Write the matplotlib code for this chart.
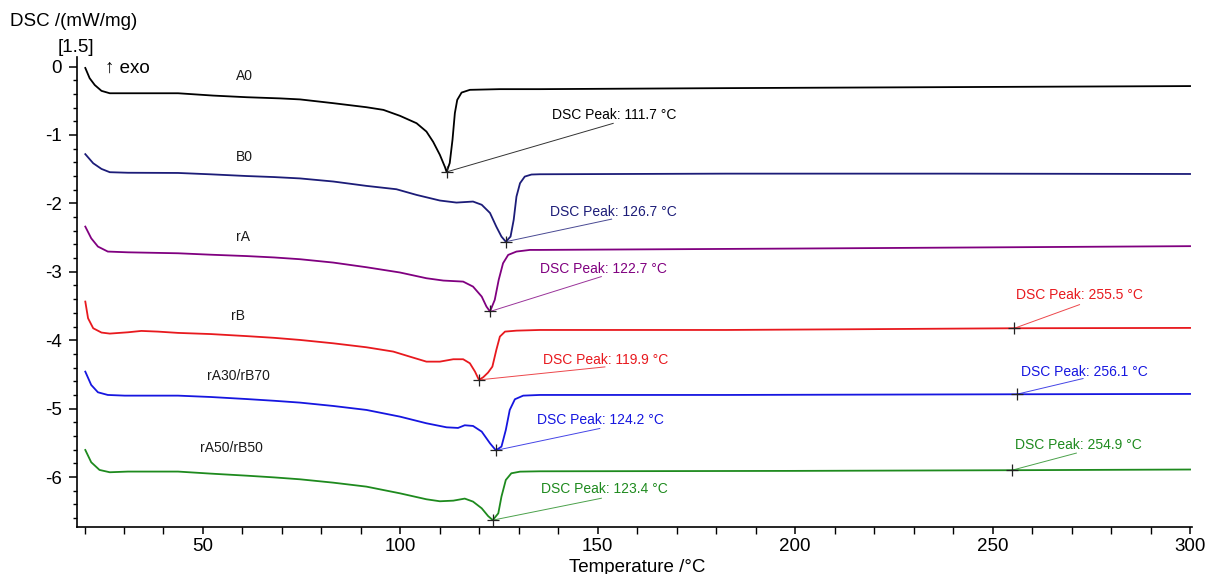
import matplotlib
matplotlib.use("Agg")
import matplotlib.pyplot as plt
from matplotlib.ticker import MultipleLocator

plt.rcParams['font.family'] = ['Liberation Sans', 'DejaVu Sans']
plt.rcParams['axes.unicode_minus'] = False

# ---------------- data ----------------
A0_T = [20.2, 21.3, 22.6, 24.3, 26.4, 31.0, 43.7, 52.6, 61.1, 69.5, 74.6, 83.0, 91.4, 95.7, 99.9,
        104.1, 106.6, 108.3, 110.0, 111.3, 111.7, 112.5, 113.2, 113.8, 114.4, 115.5, 117.6, 125.2,
        135.3, 182.6, 240, 300]
A0_D = [-0.02, -0.17, -0.27, -0.355, -0.39, -0.39, -0.39, -0.424, -0.448, -0.465, -0.48, -0.535,
        -0.594, -0.633, -0.72, -0.828, -0.95, -1.10, -1.29, -1.47, -1.54, -1.41, -1.07, -0.68,
        -0.487, -0.38, -0.34, -0.33, -0.33, -0.315, -0.30, -0.285]

B0_T = [20.2, 22.2, 24.3, 26.4, 31.0, 43.7, 52.0, 61.1, 68.0, 74.6, 83.0, 91.4, 99.0, 104.1, 110.0,
        114.2, 118.4, 120.6, 122.7, 124.3, 125.6, 126.7, 127.9, 128.7, 129.4, 130.3, 131.5, 133.2,
        135.3, 182.6, 240, 300]
B0_D = [-1.28, -1.413, -1.496, -1.544, -1.552, -1.555, -1.575, -1.60, -1.615, -1.635, -1.68, -1.744,
        -1.793, -1.876, -1.958, -1.988, -1.973, -2.02, -2.14, -2.34, -2.485, -2.56, -2.485, -2.24,
        -1.90, -1.705, -1.608, -1.578, -1.574, -1.565, -1.565, -1.57]

rA_T = [20.2, 21.7, 23.4, 25.9, 31.0, 43.7, 52.0, 61.1, 68.0, 74.6, 83.0, 91.4, 99.9, 106.6, 110.9,
        115.9, 118.4, 120.6, 121.8, 122.7, 123.9, 124.9, 126.0, 127.3, 129.4, 132.8, 135.3, 200, 300]
rA_D = [-2.339, -2.51, -2.631, -2.704, -2.715, -2.729, -2.75, -2.77, -2.79, -2.816, -2.865, -2.933,
        -3.01, -3.094, -3.128, -3.143, -3.216, -3.362, -3.508, -3.58, -3.41, -3.118, -2.875, -2.753,
        -2.704, -2.68, -2.68, -2.66, -2.625]

rB_T = [20.2, 20.9, 22.2, 24.3, 26.4, 31.0, 34.4, 38.6, 43.7, 52.0, 61.1, 68.0, 74.6, 83.0, 91.4,
        98.2, 102.4, 106.6, 110.0, 113.4, 115.9, 117.6, 118.9, 119.9, 121.0, 122.2, 123.3, 124.3,
        125.2, 126.5, 129.4, 135.3, 182.6, 213.8, 255.5, 300]
rB_D = [-3.435, -3.679, -3.825, -3.888, -3.903, -3.884, -3.864, -3.874, -3.893, -3.91, -3.94, -3.965,
        -3.996, -4.045, -4.103, -4.166, -4.24, -4.313, -4.313, -4.278, -4.278, -4.337, -4.459, -4.58,
        -4.54, -4.473, -4.386, -4.142, -3.947, -3.874, -3.86, -3.85, -3.85, -3.84, -3.825, -3.82]

rA30_T = [20.2, 21.7, 23.4, 25.9, 30.2, 43.7, 52.0, 61.1, 68.0, 74.6, 83.0, 91.4, 99.9, 106.6, 111.7,
          114.6, 116.3, 118.4, 120.6, 122.7, 124.2, 125.6, 126.7, 127.7, 129.0, 131.1, 135.3, 182.6,
          256.1, 300]
rA30_D = [-4.459, -4.654, -4.761, -4.80, -4.81, -4.81, -4.83, -4.86, -4.885, -4.912, -4.961, -5.019,
          -5.117, -5.214, -5.273, -5.282, -5.243, -5.253, -5.336, -5.507, -5.61, -5.555, -5.312,
          -5.019, -4.863, -4.81, -4.80, -4.80, -4.79, -4.785]

rA50_T = [20.2, 21.7, 23.8, 26.4, 31.0, 43.7, 52.0, 61.1, 68.0, 74.6, 83.0, 91.4, 99.9, 106.6, 110.0,
          113.4, 116.3, 118.4, 120.6, 122.2, 123.4, 124.8, 125.6, 126.7, 128.1, 130.3, 135.3, 200,
          254.9, 300]
rA50_D = [-5.604, -5.784, -5.896, -5.93, -5.92, -5.92, -5.95, -5.98, -6.005, -6.033, -6.082, -6.14,
          -6.238, -6.325, -6.354, -6.345, -6.315, -6.359, -6.457, -6.569, -6.63, -6.53, -6.286,
          -6.043, -5.945, -5.921, -5.916, -5.91, -5.90, -5.89]

names = ['A0', 'B0', 'rA', 'rB', 'rA30/rB70', 'rA50/rB50']
temps = [A0_T, B0_T, rA_T, rB_T, rA30_T, rA50_T]
dscs = [A0_D, B0_D, rA_D, rB_D, rA30_D, rA50_D]
colors = ['#000000', '#1c1c78', '#800080', '#e8191e', '#1616e0', '#1e8a1e']
label_pos = [(60.6, -0.14), (60.6, -1.32), (60.2, -2.49), (58.9, -3.65), (58.9, -4.53), (57.3, -5.58)]

# peaks: (curve index, T, DSC, text-left T, text DSC, leader end T, leader end DSC)
peaks = [
    (0, 111.7, -1.54, 138.3, -0.71, 153.9, -0.83),
    (1, 126.7, -2.56, 137.8, -2.12, 153.5, -2.23),
    (2, 122.7, -3.58, 135.3, -2.96, 150.9, -3.07),
    (3, 119.9, -4.58, 136.2, -4.29, 151.8, -4.39),
    (4, 124.2, -5.61, 134.6, -5.16, 150.5, -5.29),
    (5, 123.4, -6.63, 135.7, -6.18, 150.9, -6.31),
    (3, 255.5, -3.825, 256.0, -3.34, 272.0, -3.48),
    (4, 256.1, -4.79, 257.3, -4.46, 272.9, -4.56),
    (5, 254.9, -5.90, 255.6, -5.53, 271.2, -5.65),
]

# ---------------- figure ----------------
fig = plt.figure(figsize=(12.07, 5.74), dpi=100)
ax = fig.add_axes([0.0638, 0.0819, 0.9238, 0.8188])

for T, D, c in zip(temps, dscs, colors):
    ax.plot(T, D, color=c, lw=1.3, solid_joinstyle='round')

for name, (lx, ly) in zip(names, label_pos):
    ax.text(lx, ly, name, fontsize=10, ha='center', va='center', color='#1a1a1a')

for idx, pt, pd_, tx, ty, ex, ey in peaks:
    c = colors[idx]
    ax.plot([pt, ex], [pd_, ey], color=c, lw=0.7, alpha=0.8)
    ax.plot([pt], [pd_], marker='+', ms=8, mew=0.9, color='#222222')
    ax.text(tx, ty, f'DSC Peak: {pt:.1f} °C', fontsize=10, color=c, ha='left', va='center')

ax.set_xlim(18.1, 300.5)
ax.set_ylim(-6.73, 0.14)
ax.spines['top'].set_visible(False)
ax.spines['right'].set_visible(False)
ax.spines['left'].set_linewidth(1.2)
ax.spines['bottom'].set_linewidth(1.2)
ax.xaxis.set_major_locator(MultipleLocator(50))
ax.xaxis.set_minor_locator(MultipleLocator(10))
ax.yaxis.set_major_locator(MultipleLocator(1))
ax.yaxis.set_minor_locator(MultipleLocator(0.2))
ax.tick_params(axis='both', which='major', labelsize=13.5, direction='out')
ax.tick_params(axis='y', which='major', length=6, width=1.1, pad=5)
ax.tick_params(axis='y', which='minor', length=3, width=1.0)
ax.tick_params(axis='x', which='major', length=5, width=1.1, pad=3)
ax.tick_params(axis='x', which='minor', length=5, width=1.0)

fig.text(10 / 1207, 1 - 22 / 574, 'DSC /(mW/mg)', fontsize=13.5, ha='left', va='center')
fig.text(76 / 1207, 1 - 47 / 574, '[1.5]', fontsize=13.5, ha='center', va='center')
fig.text(105 / 1207, 1 - 68 / 574, '↑ exo', fontsize=13.5, ha='left', va='center')
fig.text(637 / 1207, 1 - 567 / 574, 'Temperature /°C', fontsize=13.5, ha='center', va='center')

fig.savefig('out.png', dpi=100)
